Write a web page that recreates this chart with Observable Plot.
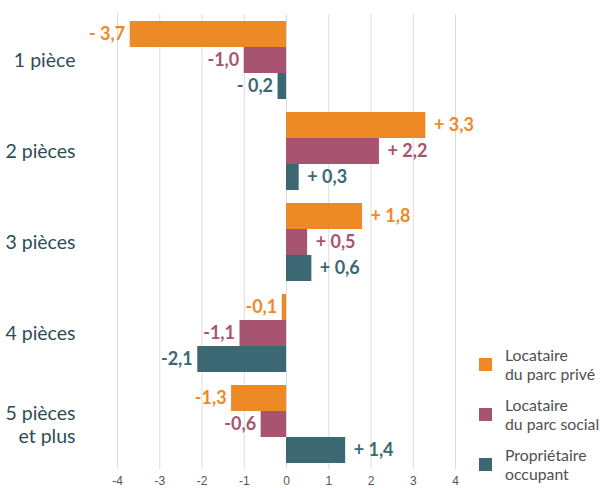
<!DOCTYPE html>
<html>
<head>
<meta charset="utf-8">
<script src="https://cdn.jsdelivr.net/npm/d3@7"></script>
<script src="https://cdn.jsdelivr.net/npm/@observablehq/plot@0.6"></script>
<style>
  html, body { margin: 0; padding: 0; background: #fff; }
  #wrap { position: relative; width: 600px; height: 488px; overflow: hidden; font-family: Lato, "Noto Sans", sans-serif; }
  #wrap svg { display: block; }
  .leg { position: absolute; left: 479px; }
  .leg .sw { position: absolute; left: 0; width: 13px; height: 13px; }
  .leg .tx { position: absolute; left: 26px; font-size: 15.8px; line-height: 18.5px; color: #505050; white-space: nowrap; }
</style>
</head>
<body>
<div id="wrap"></div>
<script>
const categories = ["1 pièce", "2 pièces", "3 pièces", "4 pièces", "5 pièces et plus"];
const categoryLabels = ["1 pièce", "2 pièces", "3 pièces", "4 pièces", "5 pièces\net plus"];
const series = ["Locataire du parc privé", "Locataire du parc social", "Propriétaire occupant"];
const legendLabels = [["Locataire", "du parc privé"], ["Locataire", "du parc social"], ["Propriétaire", "occupant"]];
const valuesPrive = [-3.7, 3.3, 1.8, -0.1, -1.3];
const valuesSocial = [-1.0, 2.2, 0.5, -1.1, -0.6];
const valuesProprio = [-0.2, 0.3, 0.6, -2.1, 1.4];
const labelsPrive = ["- 3,7", "+ 3,3", "+ 1,8", "-0,1", "-1,3"];
const labelsSocial = ["-1,0", "+ 2,2", "+ 0,5", "-1,1", "-0,6"];
const labelsProprio = ["- 0,2", "+ 0,3", "+ 0,6", "-2,1", "+ 1,4"];
const xTicks = [-4, -3, -2, -1, 0, 1, 2, 3, 4];
const colors = ["#ee8a26", "#a6546f", "#3b6872"];

const allValues = [valuesPrive, valuesSocial, valuesProprio];
const allLabels = [labelsPrive, labelsSocial, labelsProprio];
const rows = [];
categories.forEach((c, i) => {
  series.forEach((s, j) => {
    rows.push({category: c, series: s, value: allValues[j][i], label: allLabels[j][i]});
  });
});
const catRows = categories.map((c, i) => ({category: c, label: categoryLabels[i]}));

const chart = Plot.plot({
  width: 600,
  height: 488,
  marginLeft: 117,
  marginRight: 145,
  marginTop: 12,
  marginBottom: 18,
  style: {fontFamily: "Lato, sans-serif", background: "#fff"},
  x: {domain: [-4, 4], axis: null},
  fy: {domain: categories, padding: 0, axis: null},
  y: {domain: series, paddingInner: 0, paddingOuter: 0.25, axis: null},
  color: {domain: series, range: colors},
  marks: [
    Plot.gridX(xTicks, {stroke: "#dcdcdc", strokeOpacity: 1, strokeWidth: 1}),
    Plot.axisX(xTicks, {tickSize: 0, tickPadding: 7, fontSize: 12, fill: "#555", fontFamily: "'Liberation Sans', Arial, sans-serif", label: null, tickFormat: d => String(d)}),
    Plot.barX(rows, {x: "value", y: "series", fy: "category", fill: "series"}),
    Plot.text(rows.filter(d => d.value >= 0), {x: "value", y: "series", fy: "category", text: "label", fill: "series", textAnchor: "start", dx: 8, fontSize: 18, fontWeight: "bold"}),
    Plot.text(rows.filter(d => d.value < 0), {x: "value", y: "series", fy: "category", text: "label", fill: "series", textAnchor: "end", dx: -5, fontSize: 18, fontWeight: "bold"}),
    Plot.text(catRows, {fy: "category", text: "label", frameAnchor: "left", textAnchor: "end", dx: -42, fontSize: 19.5, fill: "#2e4d55", lineHeight: 1.18})
  ]
});

const wrap = document.getElementById("wrap");
wrap.appendChild(chart);

const legendTops = [358, 408, 458];
series.forEach((s, j) => {
  const item = document.createElement("div");
  item.className = "leg";
  item.style.top = legendTops[j] + "px";
  const sw = document.createElement("div");
  sw.className = "sw";
  sw.style.background = colors[j];
  sw.style.top = "0px";
  const tx = document.createElement("div");
  tx.className = "tx";
  tx.style.top = "-12px";
  tx.innerHTML = legendLabels[j].join("<br>");
  item.appendChild(sw);
  item.appendChild(tx);
  wrap.appendChild(item);
});
</script>
</body>
</html>
